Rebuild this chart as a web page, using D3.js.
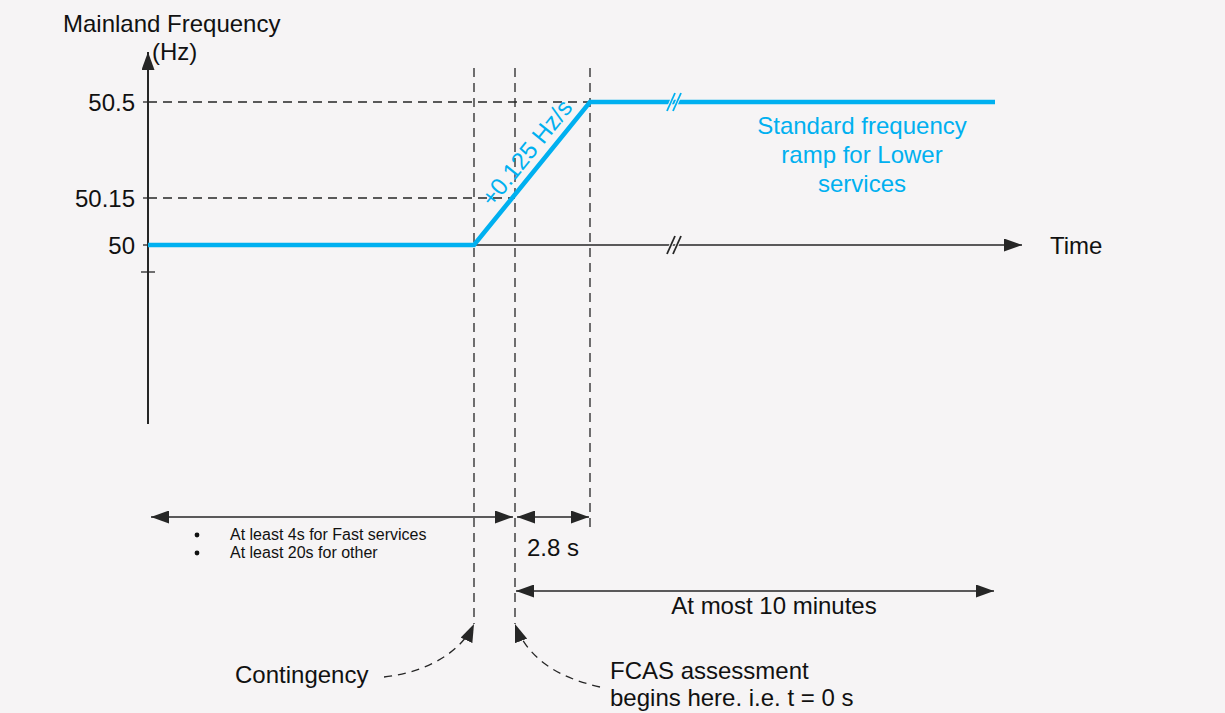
<!DOCTYPE html>
<html>
<head>
<meta charset="utf-8">
<script src="https://cdn.jsdelivr.net/npm/d3@7"></script>
<style>
  body { margin: 0; background: #f6f4f5; }
  svg { display: block; font-family: "Liberation Sans", Arial, sans-serif; }
</style>
</head>
<body>
<div id="chart"></div>
<script>
(function () {
    "use strict";

    // key instants on the (broken) time axis, seconds relative to FCAS start
    var timeKeys = [-12, -1.2, 0, 2.8, 600];
    // frequency ramp: time / Hz
    var rampTime = [-12, -1.2, 2.8, 600];
    var rampFreq = [50, 50, 50.5, 50.5];
    // y tick values and labels
    var yTicks = [50, 50.15, 50.5];
    var yTickLabels = ["50", "50.15", "50.5"];
    var bulletLines = ["At least 4s for Fast services", "At least 20s for other"];
    var noteLines = ["Standard frequency", "ramp for Lower", "services"];

    var W = 1225, H = 713;
    var blue = "#00b0f0", ink = "#262626", bg = "#f6f4f5";

    var svg = d3.select("#chart").append("svg")
        .attr("width", W).attr("height", H);

    var defs = svg.append("defs");
    defs.append("marker")
        .attr("id", "arr")
        .attr("viewBox", "0 0 18 13")
        .attr("refX", 18).attr("refY", 6.5)
        .attr("markerWidth", 18).attr("markerHeight", 13)
        .attr("markerUnits", "userSpaceOnUse")
        .attr("orient", "auto-start-reverse")
        .append("path").attr("d", "M0,0 L18,6.5 L0,13 Z").attr("fill", ink);

    // piecewise scales for the broken axes
    var x = d3.scaleLinear().domain(timeKeys).range([148, 474, 515, 590, 995]);
    var y = d3.scaleLinear().domain(yTicks).range([245, 198, 102]);

    var g = svg.append("g");

    // dashed guide lines
    var dash = "9,6";
    yTicks.slice(1).forEach(function (v, i) {
        var tEnd = i === 0 ? 0 : 2.8;
        g.append("line")
            .attr("x1", 148).attr("x2", x(tEnd))
            .attr("y1", y(v)).attr("y2", y(v))
            .attr("stroke", ink).attr("stroke-width", 1.3).attr("stroke-dasharray", dash);
    });
    [[-1.2, 624], [0, 624], [2.8, 533]].forEach(function (d) {
        g.append("line")
            .attr("x1", x(d[0])).attr("x2", x(d[0]))
            .attr("y1", 68).attr("y2", d[1])
            .attr("stroke", ink).attr("stroke-width", 1.3).attr("stroke-dasharray", dash);
    });

    // y axis
    g.append("line").attr("x1", 148).attr("x2", 148).attr("y1", 424).attr("y2", 52)
        .attr("stroke", ink).attr("stroke-width", 2).attr("marker-end", "url(#arr)");
    g.append("line").attr("x1", 141).attr("x2", 155).attr("y1", 272).attr("y2", 272)
        .attr("stroke", ink).attr("stroke-width", 1.3);
    yTicks.forEach(function (v, i) {
        g.append("line").attr("x1", 143).attr("x2", 148).attr("y1", y(v)).attr("y2", y(v))
            .attr("stroke", ink).attr("stroke-width", 1.3);
        g.append("text").attr("x", 135).attr("y", y(v) + 8.5)
            .attr("text-anchor", "end").attr("font-size", 24).attr("fill", "#111")
            .text(yTickLabels[i]);
    });
    g.append("text").attr("x", 63).attr("y", 32).attr("font-size", 24).attr("fill", "#111")
        .text("Mainland Frequency");
    g.append("text").attr("x", 152).attr("y", 60).attr("font-size", 24).attr("fill", "#111")
        .text("(Hz)");

    // time axis
    g.append("line").attr("x1", 148).attr("x2", 1022).attr("y1", y(50)).attr("y2", y(50))
        .attr("stroke", ink).attr("stroke-width", 1.5).attr("marker-end", "url(#arr)");
    g.append("text").attr("x", 1050).attr("y", y(50) + 9).attr("font-size", 24).attr("fill", "#111")
        .text("Time");

    // frequency ramp
    var line = d3.line().x(function (d) { return x(d[0]); }).y(function (d) { return y(d[1]); });
    g.append("path")
        .datum(d3.zip(rampTime, rampFreq))
        .attr("d", line)
        .attr("fill", "none").attr("stroke", blue).attr("stroke-width", 4.5)
        .attr("stroke-linejoin", "miter");

    // break marks
    function brk(cx, cy, col) {
        [-3, 3].forEach(function (o) {
            g.append("line").attr("x1", cx + o - 4).attr("x2", cx + o + 4)
                .attr("y1", cy + 9).attr("y2", cy - 9)
                .attr("stroke", bg).attr("stroke-width", 3.5);
        });
        [-3, 3].forEach(function (o) {
            g.append("line").attr("x1", cx + o - 4).attr("x2", cx + o + 4)
                .attr("y1", cy + 9).attr("y2", cy - 9)
                .attr("stroke", col).attr("stroke-width", 1.8);
        });
    }
    brk(674, y(50.5), blue);
    brk(674, y(50), ink);

    // ramp rate label
    var ang = Math.atan2(y(50.5) - y(50), x(2.8) - x(-1.2)) * 180 / Math.PI;
    g.append("text")
        .attr("transform", "translate(533,158) rotate(" + ang + ")")
        .attr("text-anchor", "middle").attr("font-size", 24).attr("fill", blue)
        .text("+0.125 Hz/s");

    g.append("text").attr("x", 862).attr("y", 134)
        .attr("text-anchor", "middle").attr("font-size", 24).attr("fill", blue)
        .selectAll("tspan").data(noteLines).enter().append("tspan")
        .attr("x", 862).attr("dy", function (d, i) { return i ? 29 : 0; })
        .text(function (d) { return d; });

    // duration arrows
    function dbl(x1, x2, yy) {
        g.append("line").attr("x1", x1).attr("x2", x2)
            .attr("y1", yy).attr("y2", yy)
            .attr("stroke", ink).attr("stroke-width", 1.5)
            .attr("marker-start", "url(#arr)").attr("marker-end", "url(#arr)");
    }
    dbl(x(-12) + 3, x(0) - 2, 517);
    dbl(x(0) + 2, x(2.8) - 1, 517);
    dbl(x(0) + 1, 994, 591);

    bulletLines.forEach(function (d, i) {
        g.append("circle").attr("cx", 197).attr("cy", 535 + i * 18).attr("r", 2.4).attr("fill", "#111");
        g.append("text").attr("x", 230).attr("y", 540 + i * 18)
            .attr("font-size", 16).attr("fill", "#111").text(d);
    });
    g.append("text").attr("x", 527).attr("y", 556).attr("font-size", 24).attr("fill", "#111").text("2.8 s");
    g.append("text").attr("x", 774).attr("y", 614).attr("text-anchor", "middle")
        .attr("font-size", 24).attr("fill", "#111").text("At most 10 minutes");

    // callouts
    g.append("path").attr("d", "M384,677 C430,672 462,650 474,624")
        .attr("fill", "none").attr("stroke", ink).attr("stroke-width", 1.3)
        .attr("stroke-dasharray", "8,6").attr("marker-end", "url(#arr)");
    g.append("path").attr("d", "M600,687 C560,678 528,660 515,624")
        .attr("fill", "none").attr("stroke", ink).attr("stroke-width", 1.3)
        .attr("stroke-dasharray", "8,6").attr("marker-end", "url(#arr)");
    g.append("text").attr("x", 235).attr("y", 683).attr("font-size", 24).attr("fill", "#111").text("Contingency");
    g.append("text").attr("x", 610).attr("y", 679).attr("font-size", 24).attr("fill", "#111").text("FCAS assessment");
    g.append("text").attr("x", 610).attr("y", 706).attr("font-size", 24).attr("fill", "#111").text("begins here. i.e. t = 0 s");
})();
</script>
</body>
</html>
